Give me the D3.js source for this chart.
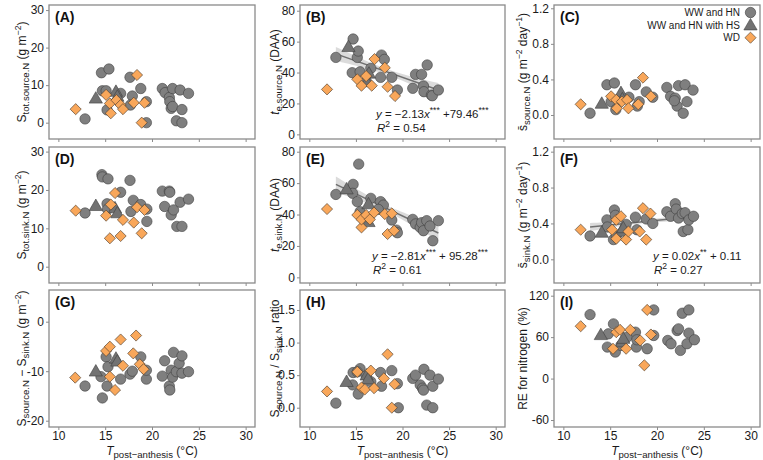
<!DOCTYPE html>
<html>
<head>
<meta charset="utf-8">
<script src="https://cdn.jsdelivr.net/npm/d3@7"></script>
<style>
  body { margin: 0; background: #fff; }
  svg { display: block; font-family: "Liberation Sans", Arial, sans-serif; }
</style>
</head>
<body>
<div id="chart"></div>
<script>
// ---- data: [T post-anthesis, value] ----
const aCircle = [[12.85,1.0],[14.6,13.3],[15.4,14.3],[14.7,8.5],[15.1,8.5],[15.2,3.4],[16.65,7.8],[17.65,12.1],[17.9,7.1],[17.7,4.7],[18.8,9.1],[19.4,0.0],[19.4,5.6],[21.1,9.1],[21.4,8.0],[21.85,6.7],[21.9,5.6],[22.05,3.8],[22.2,4.3],[22.2,9.1],[22.6,0.5],[23.0,8.7],[23.2,0.0],[23.2,3.5],[23.9,7.8]];
const aTri = [[14.0,6.5],[16.15,8.3],[16.3,7.0]];
const aDiamond = [[11.85,3.6],[15.1,7.4],[15.5,5.1],[15.6,2.5],[16.2,6.0],[16.65,4.7],[16.9,3.6],[18.05,5.3],[18.4,12.7],[18.9,0.0],[19.2,5.3]];

const bCircle = [[12.85,49.8],[14.7,61.7],[14.6,39.9],[15.15,49.8],[15.25,53.9],[15.45,40.5],[16.1,34.5],[16.6,42.7],[17.65,36.9],[17.75,51.3],[18.05,48.5],[18.85,36.9],[19.45,28.7],[21.1,29.8],[21.4,38.8],[22.05,38.8],[22.25,31.3],[22.3,27.6],[22.65,44.9],[23.1,25.4],[23.2,25.0],[23.85,28.7]];
const bTri = [[14.2,56.7],[16.2,34.0],[16.4,39.5]];
const bDiamond = [[11.9,29.1],[15.15,35.6],[15.6,31.5],[16.1,37.7],[16.7,31.5],[17.0,48.7],[18.1,43.1],[18.4,30.8],[19.2,24.8]];

const cCircle = [[12.85,0.02],[14.65,0.34],[15.45,0.36],[15.1,0.15],[15.6,0.06],[15.85,0.17],[17.0,0.20],[17.7,0.34],[17.9,0.10],[18.1,0.15],[18.85,0.26],[19.55,0.20],[21.05,0.31],[21.45,0.21],[21.95,0.19],[22.15,0.10],[22.3,0.33],[22.8,0.02],[23.0,0.34],[23.2,0.15],[23.85,0.28],[21.85,0.16]];
const cTri = [[14.1,0.13],[16.15,0.25],[16.3,0.18]];
const cDiamond = [[11.85,0.12],[15.1,0.21],[15.65,0.17],[15.7,0.075],[16.25,0.15],[16.8,0.17],[16.95,0.075],[18.0,0.12],[18.5,0.42],[19.35,0.21]];

const dCircle = [[12.85,14.0],[14.65,24.0],[14.7,23.4],[15.3,22.9],[15.2,16.4],[15.25,15.0],[16.65,19.4],[17.65,22.5],[18.0,17.3],[17.75,14.4],[18.8,16.2],[19.45,15.0],[19.45,11.8],[21.1,19.7],[21.35,15.7],[21.85,19.7],[21.9,19.4],[22.05,13.5],[22.3,14.8],[22.65,10.5],[23.0,16.8],[23.2,10.5],[23.9,17.6]];
const dTri = [[14.0,15.9],[16.05,15.3],[16.3,14.0]];
const dDiamond = [[11.85,14.6],[15.1,13.3],[15.5,7.4],[15.6,16.2],[16.05,19.2],[16.65,8.0],[16.9,12.2],[18.05,11.5],[18.4,15.5],[18.9,8.7],[19.2,14.8]];

const eCircle = [[12.85,52.8],[14.7,59.2],[14.65,53.5],[15.15,48.2],[15.3,72.1],[15.45,41.8],[16.6,50.3],[17.65,48.2],[17.95,46.0],[18.85,36.5],[19.35,30.1],[19.45,28.4],[21.1,36.9],[21.4,34.0],[21.9,31.8],[22.05,34.8],[22.25,29.7],[22.6,36.1],[22.95,32.7],[23.25,23.3],[23.85,36.1],[17.4,43.3]];
const eTri = [[14.0,56.2],[16.35,46.7],[16.35,35.4]];
const eDiamond = [[11.9,43.5],[15.15,39.7],[15.6,31.8],[15.6,36.9],[16.1,39.7],[16.5,36.9],[16.95,41.2],[18.1,40.3],[18.4,27.6],[18.85,40.7],[19.1,29.7]];

const fCircle = [[12.85,0.26],[14.65,0.44],[14.7,0.36],[15.45,0.55],[15.55,0.49],[15.35,0.22],[15.65,0.26],[16.7,0.39],[17.7,0.47],[17.85,0.33],[18.85,0.45],[19.55,0.40],[21.05,0.53],[21.45,0.48],[21.95,0.62],[22.05,0.56],[22.3,0.46],[22.7,0.51],[22.8,0.31],[23.0,0.52],[23.3,0.33],[23.4,0.44],[23.9,0.48]];
const fTri = [[14.1,0.30],[16.15,0.31],[16.4,0.35]];
const fDiamond = [[11.85,0.33],[15.65,0.44],[16.15,0.48],[15.2,0.33],[15.65,0.23],[16.7,0.22],[16.95,0.31],[18.15,0.31],[18.5,0.57],[19.3,0.51],[18.85,0.22]];

const gCircle = [[12.85,-13.0],[14.7,-15.4],[14.55,-11.1],[15.1,-7.1],[15.2,-13.0],[15.3,-9.1],[16.65,-11.6],[17.65,-10.6],[17.9,-10.0],[18.8,-7.1],[19.4,-11.6],[19.4,-9.8],[21.1,-11.0],[21.35,-7.9],[21.85,-13.0],[21.9,-13.8],[22.05,-9.8],[22.2,-11.2],[22.3,-6.2],[22.6,-10.1],[22.9,-8.4],[23.2,-6.9],[23.2,-10.4],[23.9,-10.1]];
const gTri = [[14.0,-10.0],[16.15,-7.4],[16.3,-8.0]];
const gDiamond = [[11.8,-11.3],[15.1,-5.9],[15.5,-5.05],[15.5,-11.1],[16.05,-13.8],[16.65,-3.6],[16.9,-8.9],[18.0,-6.4],[18.3,-2.8],[18.7,-8.6],[19.1,-9.6]];

const hCircle = [[12.85,0.07],[14.7,0.54],[14.65,0.35],[15.45,0.60],[15.15,0.55],[15.25,0.21],[16.1,0.49],[16.6,0.40],[17.65,0.54],[17.75,0.33],[18.85,0.57],[19.45,0.37],[19.55,0.0],[21.1,0.45],[21.4,0.50],[21.9,0.35],[22.15,0.30],[22.3,0.59],[22.25,0.27],[22.6,0.04],[22.95,0.50],[23.25,0.33],[23.25,0.0],[23.85,0.44]];
const hTri = [[14.0,0.40],[16.15,0.50],[16.3,0.44]];
const hDiamond = [[11.9,0.25],[15.15,0.55],[15.6,0.31],[15.95,0.28],[16.6,0.57],[16.95,0.30],[18.0,0.45],[18.4,0.82],[18.85,0.0],[19.15,0.36]];

const iCircle = [[12.85,92.6],[15.35,79.2],[14.8,64.8],[14.7,45.6],[15.55,38.4],[16.15,48.0],[16.8,60.0],[17.7,67.2],[17.8,45.6],[17.85,56.2],[18.95,43.2],[19.65,99.4],[19.65,62.4],[21.15,55.2],[21.5,50.4],[22.15,69.6],[22.3,72.0],[22.5,40.8],[22.7,94.6],[23.2,50.4],[23.4,99.4],[23.4,65.8],[24.0,56.2]];
const iTri = [[14.0,63.4],[16.25,52.8],[16.4,58.0]];
const iDiamond = [[11.85,75.8],[15.3,43.2],[15.65,67.2],[16.05,70.6],[16.7,43.2],[17.15,70.6],[18.2,55.2],[18.65,19.2],[18.95,99.4],[19.35,63.8]];

// regression fits as drawn: [slope, intercept, xmin, xmax, band half-width centre, band half-width ends]
const fitB = [-2.13, 79.46, 12.85, 23.85, 1.8, 4.5];
const fitE = [-2.81, 95.28, 12.85, 23.85, 2.0, 5.0];
const fitF = [0.0105, 0.225, 12.85, 24.1, 0.018, 0.045];

const xTicks = [10, 15, 20, 25, 30];
const legendLabels = ["WW and HN", "WW and HN with HS", "WD"];

// ---- layout ----
const W = 763, H = 460;
const cols = [[49, 255], [300, 505], [554, 760]];
const rows = [[5, 139], [147, 283], [290, 427]];
const yTitleX = [26, 279, 527];

const svg = d3.select("#chart").append("svg")
  .attr("width", W).attr("height", H);

const GREY = "#7f7f7f", ORANGE = "#F9A75A", EDGE = "#3f3f3f";

// text with sub/superscripts; "back" resets the baseline after a shifted part
function rich(sel, parts, size) {
  parts.forEach(p => {
    const t = sel.append("tspan").text(p.t);
    if (p.it) t.attr("font-style", "italic");
    if (p.sub) t.attr("font-size", size * 0.8).attr("dy", 3);
    else if (p.sup) t.attr("font-size", size * 0.72).attr("dy", -5);
    if (p.back) t.attr("dy", p.back);
  });
}

const panels = [
  {lab: "(A)", c: 0, r: 0, yd: [-4.35, 31.35], yt: [0, 10, 20, 30], fmt: d3.format("d"),
   data: [aCircle, aTri, aDiamond],
   yl: [{t: "S"}, {t: "tot.source.N", sub: 1}, {t: " (g m", back: -3}, {t: "−2", sup: 1}, {t: ")", back: 5}]},
  {lab: "(B)", c: 1, r: 0, yd: [-3, 83.7], yt: [0, 20, 40, 60, 80], fmt: d3.format("d"),
   data: [bCircle, bTri, bDiamond], fit: fitB,
   eq: [[{t: "y", it: 1}, {t: " = −2.13"}, {t: "x", it: 1}, {t: "***", sup: 1}, {t: " +79.46", back: 5}, {t: "***", sup: 1}], "0.54"],
   yl: [{t: "t", it: 1}, {t: "e.source.N", sub: 1}, {t: " (DAA)", back: -3}]},
  {lab: "(C)", c: 2, r: 0, yd: [-0.27, 1.237], yt: [0, 0.4, 0.8, 1.2], fmt: d3.format(".1f"),
   data: [cCircle, cTri, cDiamond], legend: true,
   yl: [{t: "s\u0304"}, {t: "source.N", sub: 1}, {t: " (g m", back: -3}, {t: "−2", sup: 1}, {t: " day", back: 5}, {t: "−1", sup: 1}, {t: ")", back: 5}]},
  {lab: "(D)", c: 0, r: 1, yd: [-4.25, 31.2], yt: [0, 10, 20, 30], fmt: d3.format("d"),
   data: [dCircle, dTri, dDiamond],
   yl: [{t: "S"}, {t: "tot.sink.N", sub: 1}, {t: " (g m", back: -3}, {t: "−2", sup: 1}, {t: ")", back: 5}]},
  {lab: "(E)", c: 1, r: 1, yd: [-3.6, 83], yt: [0, 20, 40, 60, 80], fmt: d3.format("d"),
   data: [eCircle, eTri, eDiamond], fit: fitE,
   eq: [[{t: "y", it: 1}, {t: " = −2.81"}, {t: "x", it: 1}, {t: "***", sup: 1}, {t: " + 95.28", back: 5}, {t: "***", sup: 1}], "0.61"],
   yl: [{t: "t", it: 1}, {t: "e.sink.N", sub: 1}, {t: " (DAA)", back: -3}]},
  {lab: "(F)", c: 2, r: 1, yd: [-0.264, 1.252], yt: [0, 0.4, 0.8, 1.2], fmt: d3.format(".1f"),
   data: [fCircle, fTri, fDiamond], fit: fitF,
   eq: [[{t: "y", it: 1}, {t: " = 0.02"}, {t: "x", it: 1}, {t: "**", sup: 1}, {t: " + 0.11", back: 5}], "0.27"],
   yl: [{t: "s\u0304"}, {t: "sink.N", sub: 1}, {t: " (g m", back: -3}, {t: "−2", sup: 1}, {t: " day", back: 5}, {t: "−1", sup: 1}, {t: ")", back: 5}]},
  {lab: "(G)", c: 0, r: 2, yd: [-21.27, 6.4], yt: [-20, -10, 0], fmt: d3.format("d"),
   data: [gCircle, gTri, gDiamond],
   yl: [{t: "S"}, {t: "source.N", sub: 1}, {t: " − S", back: -3}, {t: "sink.N", sub: 1}, {t: " (g m", back: -3}, {t: "−2", sup: 1}, {t: ")", back: 5}]},
  {lab: "(H)", c: 1, r: 2, yd: [-0.296, 1.807], yt: [0, 0.5, 1, 1.5], fmt: d3.format(".1f"),
   data: [hCircle, hTri, hDiamond],
   yl: [{t: "S"}, {t: "source.N", sub: 1}, {t: " / S", back: -3}, {t: "sink.N", sub: 1}, {t: " ratio", back: -3}]},
  {lab: "(I)", c: 2, r: 2, yd: [-70.1, 128.25], yt: [-60, 0, 60, 120], fmt: d3.format("d"),
   data: [iCircle, iTri, iDiamond],
   yl: [{t: "RE for nitrogen (%)"}]}
];

const tri = d3.symbol().type(d3.symbolTriangle).size(76);
const dia = d3.symbol().type(d3.symbolSquare).size(62);

function drawCircle(g, x, y) {
  g.append("circle").attr("cx", x).attr("cy", y).attr("r", 5.2)
    .attr("fill", GREY).attr("stroke", EDGE).attr("stroke-width", 0.6);
}
function drawTri(g, x, y) {
  g.append("path").attr("d", tri).attr("transform", `translate(${x},${y + 1})`)
    .attr("fill", "#727272").attr("stroke", EDGE).attr("stroke-width", 0.6);
}
function drawDia(g, x, y) {
  g.append("path").attr("d", dia).attr("transform", `translate(${x},${y}) rotate(45)`)
    .attr("fill", ORANGE).attr("stroke", "#4a3a2a").attr("stroke-width", 0.6);
}

panels.forEach(p => {
  const [x0, x1] = cols[p.c], [y0, y1] = rows[p.r];
  const x = d3.scaleLinear().domain([9, 31]).range([x0, x1]);
  const y = d3.scaleLinear().domain(p.yd).range([y1, y0]);
  const g = svg.append("g");

  // axes (ticks outside)
  const xa = g.append("g").attr("transform", `translate(0,${y1})`)
    .call(d3.axisBottom(x).tickValues(xTicks).tickSize(3).tickFormat(p.r === 2 ? d3.format("d") : ""));
  const ya = g.append("g").attr("transform", `translate(${x0},0)`)
    .call(d3.axisLeft(y).tickValues(p.yt).tickSize(3).tickFormat(d => p.fmt(d).replace("−", "-")));
  [xa, ya].forEach(a => {
    a.select(".domain").remove();
    a.selectAll(".tick line").attr("stroke", "#8c8c8c");
    a.selectAll(".tick text").attr("fill", "#1a1a1a").attr("font-size", 12)
      .attr("font-family", "Liberation Sans, Arial, sans-serif");
  });
  ya.selectAll(".tick text").attr("x", -5);
  xa.selectAll(".tick text").attr("y", 4.5);

  // regression band + line
  if (p.fit) {
    const [m, b, lo, hi, wc, we] = p.fit;
    const xm = (lo + hi) / 2, hr = (hi - lo) / 2;
    const hw = t => Math.sqrt(wc * wc + (we * we - wc * wc) * Math.pow((t - xm) / hr, 2));
    const xs = d3.range(0, 31).map(i => lo + (hi - lo) * i / 30);
    g.append("path").datum(xs)
      .attr("d", d3.area().x(t => x(t)).y0(t => y(m * t + b - hw(t))).y1(t => y(m * t + b + hw(t))))
      .attr("fill", "#cfcfcf").attr("opacity", 0.75);
    g.append("line").attr("x1", x(lo)).attr("x2", x(hi))
      .attr("y1", y(m * lo + b)).attr("y2", y(m * hi + b))
      .attr("stroke", "#707070").attr("stroke-width", 1.5);
  }

  // points
  const pts = g.append("g");
  p.data[0].forEach(d => drawCircle(pts, x(d[0]), y(d[1])));
  p.data[1].forEach(d => drawTri(pts, x(d[0]), y(d[1])));
  p.data[2].forEach(d => drawDia(pts, x(d[0]), y(d[1])));

  // frame
  g.append("rect").attr("x", x0).attr("y", y0).attr("width", x1 - x0).attr("height", y1 - y0)
    .attr("fill", "none").attr("stroke", "#8a8a8a").attr("stroke-width", 1.3);

  // panel tag
  g.append("text").attr("x", x0 + 6).attr("y", y0 + 17).text(p.lab)
    .attr("font-size", 14).attr("font-weight", "bold").attr("fill", "#111");

  // y title
  const yt = g.append("text")
    .attr("transform", `translate(${yTitleX[p.c]},${(y0 + y1) / 2}) rotate(-90)`)
    .attr("text-anchor", "middle").attr("font-size", 12).attr("fill", "#1a1a1a");
  rich(yt, p.yl, 12);

  // x title on bottom row
  if (p.r === 2) {
    const xt = g.append("text").attr("x", (x0 + x1) / 2).attr("y", 454.5)
      .attr("text-anchor", "middle").attr("font-size", 12).attr("fill", "#1a1a1a");
    rich(xt, [{t: "T", it: 1}, {t: "post−anthesis", sub: 1}, {t: " (°C)", back: -3}], 12);
  }

  // equation
  if (p.eq) {
    const ex = x0 + (p.c === 1 ? (p.r === 0 ? 76 : 72) : 99);
    const ey = y0 + 112.5;
    const e1 = g.append("text").attr("x", ex).attr("y", ey).attr("font-size", 11.5).attr("fill", "#1a1a1a");
    rich(e1, p.eq[0], 12);
    const e2 = g.append("text").attr("x", ex + 1).attr("y", ey + 14.5).attr("font-size", 11.5).attr("fill", "#1a1a1a");
    rich(e2, [{t: "R", it: 1}, {t: "2", sup: 1}, {t: " = " + p.eq[1], back: 5}], 12);
  }

  // legend
  if (p.legend) {
    const draws = [drawCircle, drawTri, drawDia];
    legendLabels.forEach((t, i) => {
      const ly = y0 + 7.5 + i * 12.6;
      g.append("text").attr("x", x1 - 20).attr("y", ly + 3.5).attr("text-anchor", "end")
        .attr("font-size", 10).attr("fill", "#1a1a1a").text(t);
      draws[i](g, x1 - 9.5, ly);
    });
  }
});
</script>
</body>
</html>
